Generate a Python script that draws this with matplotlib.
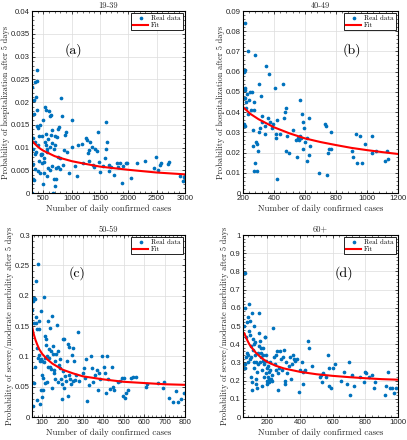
import matplotlib
matplotlib.use('Agg')
import matplotlib.pyplot as plt
from matplotlib.ticker import AutoMinorLocator

# panel (a) 19-39
a_x = [300, 305, 310, 315, 320, 325, 330, 335, 340, 345, 350, 360, 370, 380, 385, 390, 395, 400, 405, 410,
       420, 430, 440, 450, 460, 470, 480, 490, 500, 510, 520, 525, 530, 540, 550, 560, 570, 580, 590, 600,
       610, 620, 630, 640, 650, 660, 670, 680, 690, 700, 710, 720, 730, 740, 750, 760, 780, 790, 800, 820,
       830, 850, 870, 880, 900, 920, 950, 1000, 1010, 1050, 1100, 1120, 1180, 1200, 1250, 1270, 1290, 1300,
       1310, 1320, 1350, 1380, 1400, 1420, 1450, 1470, 1480, 1500, 1550, 1580, 1600, 1610, 1630, 1650, 1660,
       1700, 1750, 1800, 1820, 1850, 1880, 1900, 1950, 1980, 2050, 2150, 2300, 2450, 2480, 2520, 2550, 2580,
       2700, 2720, 2920, 2960, 2990, 355, 365, 445, 475, 515, 545, 565, 615, 655, 705, 765]
a_y = [0.0232, 0.0, 0.0063, 0.0097, 0.0120, 0.0030, 0.0205, 0.0029, 0.0173, 0.0085, 0.0113, 0.0243, 0.0210,
       0.0247, 0.0182, 0.0270, 0.0148, 0.0143, 0.0048, 0.0105, 0.0125, 0.0070, 0.0045, 0.0085, 0.0083, 0.0066,
       0.0125, 0.0161, 0.0020, 0.0043, 0.0076, 0.0112, 0.0188, 0.0183, 0.0130, 0.0097, 0.0038, 0.0054, 0.0118,
       0.0181, 0.0169, 0.0050, 0.0128, 0.0171, 0.0139, 0.0110, 0.0, 0.0030, 0.0097, 0.0105, 0.0015, 0.0030,
       0.0055, 0.0122, 0.0140, 0.0079, 0.0145, 0.0052, 0.0078, 0.0209, 0.0170, 0.0062, 0.0095, 0.0128, 0.0135,
       0.0091, 0.0045, 0.0160, 0.0101, 0.0060, 0.0037, 0.0106, 0.0108, 0.0066, 0.0121, 0.0116, 0.0087, 0.0071,
       0.0094, 0.0112, 0.0102, 0.0062, 0.0057, 0.0097, 0.0093, 0.0135, 0.0068, 0.0047, 0.0059, 0.0078, 0.0155,
       0.0096, 0.0112, 0.0062, 0.0049, 0.0058, 0.0040, 0.0065, 0.0058, 0.0067, 0.0022, 0.0059, 0.0067, 0.0066,
       0.0032, 0.0066, 0.0070, 0.0055, 0.0080, 0.0051, 0.0062, 0.0066, 0.0064, 0.0068, 0.0038, 0.0027, 0.0036,
       0.0052, 0.0091, 0.0150, 0.0085, 0.0068, 0.0105, 0.0090, 0.0102, 0.0060, 0.0125, 0.0058]
a_fit_x = [300, 350, 400, 450, 500, 600, 700, 800, 1000, 1200, 1500, 2000, 2500, 3000]
a_fit_y = [0.0115, 0.0108, 0.0102, 0.0097, 0.0093, 0.0087, 0.0081, 0.0077, 0.0070, 0.0065, 0.0058, 0.0051,
           0.0045, 0.0041]

# panel (b) 40-49
b_x = [205, 212, 215, 210, 215, 205, 210, 212, 218, 222, 225, 230, 232, 240, 245, 250, 260, 262, 265, 268,
       270, 272, 275, 280, 285, 288, 292, 295, 300, 305, 310, 315, 320, 322, 340, 345, 350, 360, 365, 375,
       385, 395, 405, 410, 415, 418, 420, 440, 460, 462, 470, 475, 480, 485, 495, 520, 540, 550, 555, 560,
       565, 570, 575, 580, 585, 590, 595, 600, 610, 615, 625, 625, 635, 690, 730, 735, 745, 750, 755, 765,
       770, 905, 908, 930, 935, 955, 970, 985, 1030, 1035, 1060, 1115, 1130, 1135]
b_y = [0.060, 0.061, 0.084, 0.052, 0.051, 0.034, 0.033, 0.047, 0.042, 0.045, 0.049, 0.070, 0.039, 0.046,
       0.050, 0.041, 0.050, 0.031, 0.023, 0.011, 0.045, 0.041, 0.015, 0.068, 0.025, 0.011, 0.024, 0.021, 0.054,
       0.030, 0.032, 0.048, 0.038, 0.035, 0.033, 0.029, 0.063, 0.037, 0.059, 0.035, 0.032, 0.034, 0.052, 0.029,
       0.027, 0.036, 0.007, 0.029, 0.054, 0.037, 0.040, 0.042, 0.021, 0.028, 0.020, 0.031, 0.026, 0.018, 0.027,
       0.026, 0.028, 0.046, 0.027, 0.039, 0.035, 0.022, 0.032, 0.025, 0.016, 0.027, 0.019, 0.037, 0.023, 0.010,
       0.034, 0.033, 0.009, 0.020, 0.022, 0.030, 0.022, 0.021, 0.018, 0.029, 0.015, 0.028, 0.015, 0.024, 0.020,
       0.028, 0.021, 0.016, 0.021, 0.017]
b_fit_x = [200, 250, 300, 400, 500, 600, 700, 800, 900, 1000, 1100, 1200]
b_fit_y = [0.0425, 0.0390, 0.0365, 0.0325, 0.0295, 0.0270, 0.0252, 0.0237, 0.0223, 0.0212, 0.0202, 0.0193]

# panel (c) 50-59
c_x = [52, 55, 57, 58, 60, 62, 63, 65, 68, 70, 72, 73, 75, 76, 78, 80, 82, 84, 85, 88, 90, 92, 95, 95, 98,
       100, 100, 102, 105, 108, 110, 112, 115, 116, 118, 120, 122, 125, 128, 130, 132, 135, 138, 140, 142,
       145, 148, 150, 152, 155, 158, 160, 162, 165, 170, 172, 175, 178, 180, 185, 188, 190, 195, 198, 200,
       202, 205, 208, 210, 215, 220, 225, 228, 230, 232, 238, 240, 245, 250, 252, 258, 262, 265, 275, 280,
       300, 305, 310, 315, 320, 330, 340, 345, 350, 360, 370, 375, 380, 385, 395, 405, 410, 415, 420, 425,
       430, 440, 445, 450, 470, 480, 490, 495, 500, 505, 510, 520, 535, 545, 560, 610, 615, 670, 690, 695,
       720, 740, 755, 765, 780, 795]
c_y = [0.177, 0.192, 0.018, 0.056, 0.196, 0.155, 0.194, 0.082, 0.224, 0.165, 0.155, 0.145, 0.113, 0.028,
       0.098, 0.253, 0.158, 0.145, 0.103, 0.092, 0.022, 0.045, 0.174, 0.095, 0.070, 0.093, 0.033, 0.065, 0.045,
       0.198, 0.090, 0.098, 0.133, 0.056, 0.128, 0.118, 0.100, 0.057, 0.158, 0.083, 0.097, 0.112, 0.083, 0.146,
       0.079, 0.108, 0.048, 0.167, 0.104, 0.117, 0.078, 0.072, 0.092, 0.062, 0.104, 0.152, 0.108, 0.058, 0.086,
       0.095, 0.080, 0.062, 0.055, 0.030, 0.128, 0.076, 0.128, 0.048, 0.068, 0.059, 0.092, 0.120, 0.035, 0.115,
       0.070, 0.063, 0.054, 0.103, 0.060, 0.113, 0.092, 0.061, 0.069, 0.140, 0.060, 0.073, 0.080, 0.065, 0.096,
       0.027, 0.052, 0.101, 0.081, 0.058, 0.070, 0.078, 0.044, 0.073, 0.062, 0.101, 0.082, 0.072, 0.040, 0.101,
       0.063, 0.046, 0.082, 0.050, 0.045, 0.057, 0.060, 0.064, 0.035, 0.064, 0.032, 0.040, 0.044, 0.065, 0.066,
       0.066, 0.050, 0.055, 0.056, 0.048, 0.057, 0.032, 0.025, 0.043, 0.025, 0.029, 0.040]
c_fit_x = [50, 55, 60, 67, 75, 85, 100, 125, 150, 200, 250, 300, 400, 500, 600, 700, 800]
c_fit_y = [0.150, 0.142, 0.135, 0.127, 0.120, 0.112, 0.104, 0.095, 0.088, 0.078, 0.072, 0.067, 0.062, 0.058,
           0.056, 0.054, 0.053]

# panel (d) 60+
d_x = [60, 58, 62, 63, 65, 67, 70, 72, 75, 78, 80, 82, 85, 88, 90, 92, 95, 97, 100, 102, 104, 106, 108, 110,
       112, 115, 116, 118, 120, 122, 125, 128, 130, 132, 135, 138, 140, 142, 145, 148, 150, 152, 155, 158,
       160, 162, 165, 168, 170, 172, 175, 178, 180, 182, 185, 188, 190, 192, 195, 198, 200, 202, 205, 208,
       210, 212, 215, 218, 220, 225, 230, 235, 240, 245, 250, 255, 260, 262, 265, 270, 275, 280, 290, 295,
       300, 305, 310, 315, 320, 330, 340, 345, 350, 355, 360, 370, 380, 395, 400, 410, 415, 420, 430, 450,
       455, 470, 520, 525, 535, 540, 560, 570, 575, 580, 590, 600, 615, 650, 670, 690, 700, 705, 720, 730,
       770, 790, 800, 805, 820, 840, 855, 860, 920, 925, 940, 950, 965, 975, 990]
d_y = [0.79, 0.50, 0.27, 0.29, 0.60, 0.44, 0.33, 0.52, 0.35, 0.34, 0.55, 0.30, 0.62, 0.47, 0.45, 0.32, 0.53,
       0.33, 0.39, 0.22, 0.19, 0.15, 0.57, 0.43, 0.37, 0.50, 0.27, 0.40, 0.30, 0.34, 0.41, 0.21, 0.30, 0.18,
       0.25, 0.16, 0.29, 0.35, 0.57, 0.39, 0.46, 0.30, 0.42, 0.33, 0.35, 0.38, 0.17, 0.26, 0.31, 0.34, 0.38,
       0.29, 0.22, 0.44, 0.44, 0.31, 0.24, 0.34, 0.27, 0.20, 0.18, 0.28, 0.22, 0.25, 0.21, 0.19, 0.26, 0.30,
       0.21, 0.23, 0.20, 0.49, 0.33, 0.29, 0.26, 0.34, 0.36, 0.15, 0.24, 0.27, 0.36, 0.32, 0.26, 0.33, 0.37,
       0.20, 0.18, 0.30, 0.24, 0.28, 0.33, 0.21, 0.29, 0.34, 0.32, 0.31, 0.32, 0.14, 0.26, 0.30, 0.18, 0.25,
       0.26, 0.42, 0.38, 0.28, 0.22, 0.23, 0.19, 0.24, 0.22, 0.34, 0.27, 0.17, 0.16, 0.27, 0.29, 0.20, 0.25,
       0.18, 0.30, 0.12, 0.23, 0.17, 0.22, 0.19, 0.25, 0.24, 0.22, 0.23, 0.16, 0.19, 0.12, 0.17, 0.25, 0.16,
       0.16, 0.13, 0.16]
d_fit_x = [58, 65, 72, 80, 90, 100, 115, 130, 150, 175, 200, 250, 300, 400, 500, 600, 700, 800, 900, 1000]
d_fit_y = [0.460, 0.445, 0.430, 0.415, 0.398, 0.385, 0.368, 0.352, 0.335, 0.317, 0.302, 0.282, 0.267, 0.248,
           0.235, 0.226, 0.219, 0.213, 0.208, 0.205]

SERIF = 'cmr10'
BLUE = '#0072BD'
RED = '#FF0000'

fig = plt.figure(figsize=(4.07, 4.40), dpi=100)
W, H = 407, 440


def panel(rect, x, y, fx, fy, xlim, ylim, xstep, ystep, title, ylabel, tag, tagpos):
    l, t, r, b = rect
    ax = fig.add_axes([l / W, 1 - b / H, (r - l) / W, (b - t) / H])
    ax.grid(True, color='#dcdcdc', linewidth=0.5)
    ax.set_axisbelow(True)
    ax.plot(x, y, '.', color=BLUE, markersize=3.3, label='Real data')
    ax.plot(fx, fy, '-', color=RED, linewidth=1.5, label='Fit')
    ax.set_xlim(*xlim)
    ax.set_ylim(*ylim)
    ax.set_xticks(list(range(xstep[0], xlim[1] + 1, xstep[1])))
    n = int(round(ylim[1] / ystep))
    ax.set_yticks([round(i * ystep, 4) for i in range(n + 1)])
    ax.set_yticklabels(['%g' % round(i * ystep, 4) for i in range(n + 1)])
    ax.xaxis.set_minor_locator(AutoMinorLocator(5))
    ax.yaxis.set_minor_locator(AutoMinorLocator(5))
    ax.tick_params(which='both', direction='in', top=True, right=True, labelsize=5.6, pad=1.5)
    ax.tick_params(which='major', length=2.5, width=0.5)
    ax.tick_params(which='minor', length=1.3, width=0.4)
    for lab in ax.get_xticklabels() + ax.get_yticklabels():
        lab.set_fontfamily('Liberation Sans')
        lab.set_color('#262626')
    for s in ax.spines.values():
        s.set_linewidth(0.8)
    ax.set_title(title, fontfamily=SERIF, fontsize=6, pad=2.5, color='#262626')
    ax.set_xlabel('Number of daily confirmed cases', fontfamily=SERIF, fontsize=6.3, labelpad=1.5,
                  color='#262626')
    ax.set_ylabel(ylabel, fontfamily=SERIF, fontsize=6.0, labelpad=0.5, color='#262626')
    ax.text(tagpos[0], tagpos[1], tag, transform=ax.transAxes, fontfamily=SERIF, fontsize=10,
            ha='center', va='center')
    leg = ax.legend(loc='upper right', prop={'family': SERIF, 'size': 5}, fancybox=False,
                    edgecolor='black', framealpha=1, borderaxespad=0.3, handlelength=2.2,
                    handletextpad=0.4, borderpad=0.3, labelspacing=0.2, markerscale=1.0)
    leg.get_frame().set_linewidth(0.6)
    return ax


panel((32, 11, 185, 193), a_x, a_y, a_fit_x, a_fit_y, (300, 3000), (0, 0.04), (500, 500), 0.005,
      '19-39', 'Probability of hospitalization after 5 days', '(a)', (0.27, 0.786))
panel((243, 11, 398, 193), b_x, b_y, b_fit_x, b_fit_y, (200, 1200), (0, 0.09), (200, 200), 0.01,
      '40-49', 'Probability of hospitalization after 5 days', '(b)', (0.70, 0.786))
panel((32, 235, 185, 417), c_x, c_y, c_fit_x, c_fit_y, (50, 800), (0, 0.3), (100, 100), 0.05,
      '50-59', 'Probability of severe/moderate morbidity after 5 days', '(c)', (0.295, 0.79))
panel((243, 235, 398, 417), d_x, d_y, d_fit_x, d_fit_y, (50, 1000), (0, 1), (200, 200), 0.1,
      '60+', 'Probability of severe/moderate morbidity after 5 days', '(d)', (0.65, 0.79))

fig.savefig('out.png', dpi=100)
